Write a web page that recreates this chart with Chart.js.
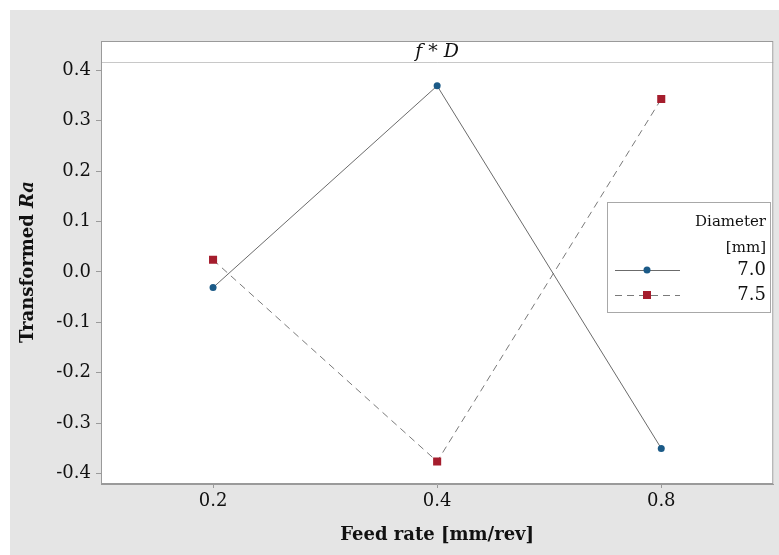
<!DOCTYPE html>
<html>
<head>
<meta charset="utf-8">
<script src="https://cdn.jsdelivr.net/npm/chart.js@4/dist/chart.umd.min.js"></script>
<style>
  html, body { margin: 0; padding: 0; background: #fff; }
  canvas { display: block; }
</style>
</head>
<body>
<canvas id="interaction" width="779" height="555"></canvas>
<script>
// data
const feedRates = ['0.2', '0.4', '0.8'];
const diameters = ['7.0', '7.5'];
const ra70 = [-0.031, 0.369, -0.350];
const ra75 = [0.024, -0.376, 0.343];
const yTicks = [-0.4, -0.3, -0.2, -0.1, 0.0, 0.1, 0.2, 0.3, 0.4];

const serif = '"DejaVu Serif", "Liberation Serif", serif';
const blue = '#1b5a87';
const red = '#a51d2d';

// backdrop, frame, titles and the boxed legend
const decor = {
  id: 'decor',
  beforeDraw(chart) {
    const { ctx, chartArea: a } = chart;
    ctx.save();
    ctx.fillStyle = '#ffffff';
    ctx.fillRect(0, 0, chart.width, chart.height);
    ctx.fillStyle = '#e5e5e5';
    ctx.fillRect(10, 10, chart.width - 10, chart.height - 10);
    ctx.fillStyle = '#ffffff';
    ctx.fillRect(a.left, a.top, a.right - a.left, a.bottom - a.top);
    // title strip line
    ctx.strokeStyle = '#c8c8c8';
    ctx.lineWidth = 1;
    ctx.beginPath();
    ctx.moveTo(a.left, 62.5);
    ctx.lineTo(a.right, 62.5);
    ctx.stroke();
    ctx.restore();
  },
  afterDraw(chart) {
    const { ctx, chartArea: a } = chart;
    ctx.save();
    ctx.strokeStyle = '#9a9a9a';
    ctx.lineWidth = 1;
    ctx.strokeRect(a.left + 0.5, a.top + 0.5, a.right - a.left - 1, a.bottom - a.top - 1);

    ctx.fillStyle = '#111';
    ctx.textBaseline = 'middle';

    // panel title: f * D
    const cx = (a.left + a.right) / 2;
    const parts = [
      { t: 'f', f: 'italic 19px ' + serif },
      { t: ' * ', f: '19px ' + serif },
      { t: 'D', f: 'italic 19px ' + serif }
    ];
    let w = 0;
    parts.forEach(p => { ctx.font = p.f; w += ctx.measureText(p.t).width; });
    let x = cx - w / 2;
    ctx.textAlign = 'left';
    parts.forEach(p => { ctx.font = p.f; ctx.fillText(p.t, x, 52); x += ctx.measureText(p.t).width; });

    // x axis title
    ctx.font = 'bold 18px ' + serif;
    ctx.textAlign = 'center';
    ctx.fillText('Feed rate [mm/rev]', cx, 535);

    // y axis title: Transformed Ra
    ctx.translate(28, 262);
    ctx.rotate(-Math.PI / 2);
    const yp = [
      { t: 'Transformed ', f: 'bold 18px ' + serif },
      { t: 'Ra', f: 'italic bold 18px ' + serif }
    ];
    w = 0;
    yp.forEach(p => { ctx.font = p.f; w += ctx.measureText(p.t).width; });
    x = -w / 2;
    ctx.textAlign = 'left';
    yp.forEach(p => { ctx.font = p.f; ctx.fillText(p.t, x, 0); x += ctx.measureText(p.t).width; });
    ctx.setTransform(1, 0, 0, 1, 0, 0);

    // legend box
    ctx.fillStyle = '#ffffff';
    ctx.fillRect(607, 202, 163, 110);
    ctx.strokeStyle = '#a8a8a8';
    ctx.strokeRect(607.5, 202.5, 163, 110);
    ctx.fillStyle = '#111';
    ctx.textAlign = 'right';
    ctx.font = '15px ' + serif;
    ctx.fillText('Diameter', 766, 222);
    ctx.fillText('[mm]', 766, 248);
    ctx.font = '18px ' + serif;
    const rows = [270, 295];
    chart.data.datasets.forEach((ds, i) => {
      const y = rows[i];
      ctx.strokeStyle = ds.borderColor;
      ctx.lineWidth = 1;
      ctx.setLineDash(ds.borderDash || []);
      ctx.beginPath();
      ctx.moveTo(615, y + 0.5);
      ctx.lineTo(680, y + 0.5);
      ctx.stroke();
      ctx.setLineDash([]);
      ctx.fillStyle = ds.pointBackgroundColor;
      if (ds.pointStyle === 'rect') {
        ctx.fillRect(647 - 4, y - 4, 8, 8);
      } else {
        ctx.beginPath();
        ctx.arc(647, y, 3.5, 0, Math.PI * 2);
        ctx.fill();
      }
      ctx.fillStyle = '#111';
      ctx.fillText(ds.label, 766, y);
    });
    ctx.restore();
  }
};

new Chart(document.getElementById('interaction'), {
  type: 'line',
  data: {
    labels: feedRates,
    datasets: [
      {
        label: diameters[0],
        data: ra70,
        borderColor: '#6b6b6b',
        borderWidth: 1,
        pointStyle: 'circle',
        pointRadius: 3.5,
        pointBackgroundColor: blue,
        pointBorderColor: blue,
        pointBorderWidth: 0
      },
      {
        label: diameters[1],
        data: ra75,
        borderColor: '#7a7a7a',
        borderWidth: 1,
        borderDash: [7, 5],
        pointStyle: 'rect',
        pointRadius: 5.7,
        pointBackgroundColor: red,
        pointBorderColor: red,
        pointBorderWidth: 0
      }
    ]
  },
  options: {
    responsive: false,
    animation: false,
    devicePixelRatio: 1,
    layout: { padding: { top: 41, right: 4, left: 0, bottom: 0 } },
    plugins: {
      legend: { display: false },
      tooltip: { enabled: false },
      title: { display: false }
    },
    scales: {
      x: {
        type: 'category',
        offset: true,
        grid: { display: true, drawOnChartArea: false, drawTicks: true, tickLength: 4, color: '#9a9a9a' },
        border: { display: true, color: '#9a9a9a' },
        ticks: { color: '#111', font: { family: serif, size: 18 }, padding: 3, maxRotation: 0 },
        afterFit(scale) { scale.height = 71; }
      },
      y: {
        min: -0.4206,
        max: 0.458,
        grid: { display: true, drawOnChartArea: false, drawTicks: true, tickLength: 5, color: '#9a9a9a' },
        border: { display: true, color: '#9a9a9a' },
        afterBuildTicks(scale) { scale.ticks = yTicks.map(v => ({ value: v })); },
        ticks: {
          color: '#111',
          font: { family: serif, size: 18 },
          padding: 5,
          callback: v => Number(v).toFixed(1)
        },
        afterFit(scale) { scale.width = 101; }
      }
    }
  },
  plugins: [decor]
});
</script>
</body>
</html>
